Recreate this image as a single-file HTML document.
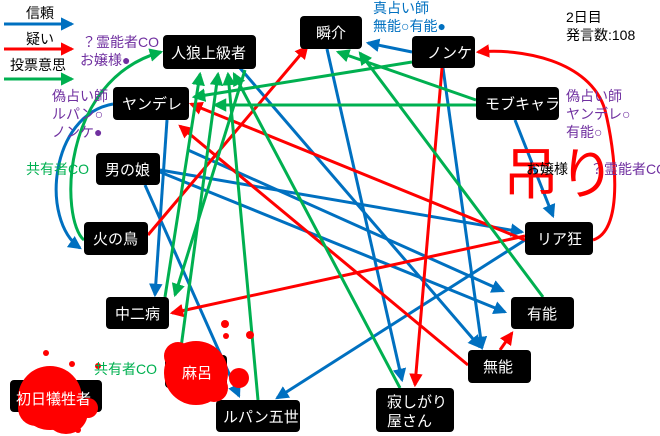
<!DOCTYPE html>
<html><head><meta charset="utf-8"><style>
html,body{margin:0;padding:0;background:#fff;}
svg{display:block;}
text{font-family:"Liberation Sans","Noto Sans CJK JP",sans-serif;}
.n rect{fill:#000;}
.n text{fill:#fff;font-size:15px;}
</style></head><body>
<svg width="660" height="436" viewBox="0 0 660 436" xmlns="http://www.w3.org/2000/svg">
<defs>
<marker id="b" viewBox="0 0 6 6" markerWidth="4.5" markerHeight="4.5" refX="5" refY="3" orient="auto" markerUnits="strokeWidth"><path d="M0,0 L6,3 L0,6 z" fill="#0070c0"/></marker>
<marker id="r" viewBox="0 0 6 6" markerWidth="4.5" markerHeight="4.5" refX="5" refY="3" orient="auto" markerUnits="strokeWidth"><path d="M0,0 L6,3 L0,6 z" fill="#ff0000"/></marker>
<marker id="g" viewBox="0 0 6 6" markerWidth="4.5" markerHeight="4.5" refX="5" refY="3" orient="auto" markerUnits="strokeWidth"><path d="M0,0 L6,3 L0,6 z" fill="#00b050"/></marker>
</defs>
<!-- legend -->
<text x="26" y="18" font-size="14">信頼</text>
<line x1="4" y1="24" x2="72" y2="24" stroke="#0070c0" stroke-width="3" marker-end="url(#b)"/>
<text x="26" y="44" font-size="14">疑い</text>
<line x1="4" y1="49" x2="72" y2="49" stroke="#ff0000" stroke-width="3" marker-end="url(#r)"/>
<text x="10" y="70" font-size="14">投票意思</text>
<line x1="4" y1="79" x2="72" y2="79" stroke="#00b050" stroke-width="3" marker-end="url(#g)"/>

<g fill="none" stroke-width="3">
<g stroke="#0070c0">
<line x1="412" y1="52" x2="368" y2="43" marker-end="url(#b)"/>
<line x1="240" y1="68" x2="480" y2="347" marker-end="url(#b)"/>
<line x1="327" y1="49" x2="402" y2="380" marker-end="url(#b)"/>
<line x1="443" y1="68" x2="482" y2="348" marker-end="url(#b)"/>
<line x1="160" y1="170" x2="522" y2="232" marker-end="url(#b)"/>
<line x1="160" y1="172" x2="505" y2="312" marker-end="url(#b)"/>
<line x1="515" y1="120" x2="553" y2="216" marker-end="url(#b)"/>
<line x1="525" y1="240" x2="277" y2="398" marker-end="url(#b)"/>
<line x1="167" y1="120" x2="155" y2="295" marker-end="url(#b)"/>
<line x1="145" y1="185" x2="239" y2="396" marker-end="url(#b)"/>
<line x1="188" y1="150" x2="503" y2="291" marker-end="url(#b)"/>
<path d="M113,104 C50,115 40,220 80,248" marker-end="url(#b)"/>
</g>
<g stroke="#ff0000">
<line x1="148" y1="235" x2="307" y2="47" marker-end="url(#r)"/>
<line x1="525" y1="236" x2="172" y2="313" marker-end="url(#r)"/>
<line x1="442" y1="68" x2="415" y2="385" marker-end="url(#r)"/>
<line x1="468" y1="365" x2="180" y2="126" marker-end="url(#r)"/>
<line x1="525" y1="240" x2="191" y2="104" marker-end="url(#r)"/>
<line x1="500" y1="350" x2="512" y2="333" marker-end="url(#r)"/>
<path d="M593,240 C625,230 615,150 605,110 C590,60 520,48 478,52" marker-end="url(#r)"/>
</g>
<g stroke="#00b050">
<path d="M84,240 C60,220 60,80 161,52" marker-end="url(#g)"/>
<line x1="412" y1="62" x2="194" y2="97" marker-end="url(#g)"/>
<line x1="476" y1="105" x2="215" y2="105" marker-end="url(#g)"/>
<line x1="476" y1="100" x2="338" y2="52" marker-end="url(#g)"/>
<line x1="543" y1="297" x2="360" y2="53" marker-end="url(#g)"/>
<line x1="165" y1="297" x2="200" y2="74" marker-end="url(#g)"/>
<line x1="180" y1="355" x2="218" y2="74" marker-end="url(#g)"/>
<line x1="258" y1="400" x2="228" y2="74" marker-end="url(#g)"/>
<line x1="400" y1="388" x2="234" y2="74" marker-end="url(#g)"/>
<line x1="245" y1="70" x2="175" y2="295" marker-end="url(#g)"/>
</g>
</g>

<g class="n">
<rect x="163" y="35" width="93" height="34" rx="4"/><text x="171" y="58">人狼上級者</text>
<rect x="300" y="16" width="62" height="33" rx="4"/><text x="316" y="38">瞬介</text>
<rect x="412" y="36" width="63" height="32" rx="4"/><text x="427" y="58">ノンケ</text>
<rect x="113" y="87" width="76" height="33" rx="4"/><text x="122" y="109">ヤンデレ</text>
<rect x="476" y="87" width="83" height="33" rx="4"/><text x="485" y="109">モブキャラ</text>
<rect x="96" y="153" width="64" height="32" rx="4"/><text x="105" y="175">男の娘</text>
<rect x="84" y="222" width="64" height="33" rx="4"/><text x="93" y="244">火の鳥</text>
<rect x="525" y="222" width="68" height="33" rx="4"/><text x="537" y="244">リア狂</text>
<rect x="106" y="297" width="63" height="32" rx="4"/><text x="115" y="319">中二病</text>
<rect x="511" y="297" width="63" height="32" rx="4"/><text x="527" y="319">有能</text>
<rect x="468" y="350" width="63" height="33" rx="4"/><text x="483" y="372">無能</text>
<rect x="165" y="355" width="62" height="33" rx="4"/>
<rect x="10" y="380" width="92" height="32" rx="4"/>
<rect x="216" y="400" width="84" height="32" rx="4"/><text x="223" y="422">ルパン五世</text>
<rect x="376" y="388" width="78" height="44" rx="4"/><text x="387" y="407">寂しがり</text><text x="387" y="426">屋さん</text>
</g>

<g fill="#ff0000">
<circle cx="196" cy="373" r="32"/><circle cx="178" cy="356" r="14"/><circle cx="214" cy="388" r="14"/>
<circle cx="239" cy="378" r="10"/><circle cx="226" cy="336" r="3"/><circle cx="250" cy="335" r="4"/><circle cx="225" cy="324" r="4"/>
<circle cx="50" cy="398" r="32"/><circle cx="36" cy="408" r="18"/><circle cx="66" cy="412" r="22"/><circle cx="88" cy="408" r="10"/>
<circle cx="46" cy="353" r="3"/><circle cx="72" cy="364" r="3"/><circle cx="78" cy="430" r="3"/><circle cx="98" cy="366" r="3"/>
</g>
<text x="182" y="378" fill="#fff" font-size="15">麻呂</text>
<text x="16" y="404" fill="#fff" font-size="15">初日犠牲者</text>

<g font-size="14">
<text x="82" y="47" fill="#7030a0">？霊能者CO</text>
<text x="80" y="65" fill="#7030a0">お嬢様●</text>
<text x="52" y="101" fill="#7030a0">偽占い師</text>
<text x="52" y="119" fill="#7030a0">ルパン○</text>
<text x="52" y="137" fill="#7030a0">ノンケ●</text>
<text x="26" y="174" fill="#00b050">共有者CO</text>
<text x="94" y="374" fill="#00b050">共有者CO</text>
<text x="373" y="13" fill="#0070c0">真占い師</text>
<text x="373" y="31" fill="#0070c0">無能○有能●</text>
<text x="566" y="101" fill="#7030a0">偽占い師</text>
<text x="566" y="119" fill="#7030a0">ヤンデレ○</text>
<text x="566" y="137" fill="#7030a0">有能○</text>
<text x="590" y="174" fill="#7030a0">？霊能者CO</text>
<text x="503" y="194" fill="#ff0000" font-size="56">吊り</text>
<text x="526" y="174" fill="#000">お嬢様</text>
<text x="566" y="22" fill="#000">2日目</text>
<text x="566" y="40" fill="#000">発言数:108</text>
</g>
</svg>
</body></html>
